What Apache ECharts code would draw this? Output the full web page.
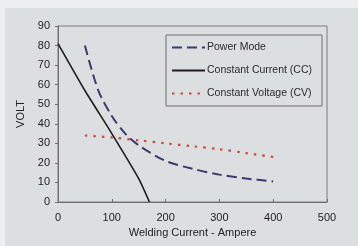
<!DOCTYPE html>
<html>
<head>
<meta charset="utf-8">
<script src="https://cdn.jsdelivr.net/npm/echarts@6/dist/echarts.min.js"></script>
<style>
html,body{margin:0;padding:0;background:#eceeef;}
#main{width:358px;height:246px;}
</style>
</head>
<body>
<div id="main"></div>
<script>
var seriesNames = ['Power Mode', 'Constant Current (CC)', 'Constant Voltage (CV)']
var powerMode = [[50, 80], [75, 57], [100, 44], [125, 35], [150, 29], [200, 21], [250, 17], [300, 14], [350, 12], [400, 10.5]]
var constCurrent = [[0, 81], [50, 57], [100, 35], [150, 12], [170, 0]]
var constVoltage = [[50, 34], [100, 33], [150, 31.5], [200, 30], [250, 28.5], [300, 27], [350, 25], [400, 23]]

var myChart = echarts.init(document.getElementById('main'))
var font = 'Liberation Sans, Arial, sans-serif'
var option = {
	backgroundColor: '#eceeef',
	animation: false,
	graphic: [{
		type: 'rect',
		shape: {x: 5, y: 8, width: 353, height: 238},
		style: {fill: '#dcdfe0'},
		z: -10
	}],
	grid: {left: 58, right: 31, top: 26, bottom: 44, show: true, borderColor: '#7a7a7a', borderWidth: 1, backgroundColor: 'transparent'},
	legend: {
		orient: 'vertical',
		left: 166, top: 35,
		itemWidth: 33, itemHeight: 8, itemGap: 12,
		padding: [7, 10, 7, 5],
		borderColor: '#6e6e6e', borderWidth: 1,
		itemStyle: {opacity: 0},
		textStyle: {fontFamily: font, fontSize: 10.5, color: '#2a2a2a', padding: [0, 0, 0, -3]},
		data: seriesNames
	},
	xAxis: {
		type: 'value', min: 0, max: 500, interval: 100,
		name: 'Welding Current - Ampere', nameLocation: 'middle', nameGap: 24,
		nameTextStyle: {fontFamily: font, fontSize: 11, color: '#222'},
		axisLine: {lineStyle: {color: '#6e6e6e'}},
		axisTick: {show: true, length: 3, inside: true, lineStyle: {color: '#6e6e6e'}},
		axisLabel: {fontFamily: font, fontSize: 11, color: '#222', margin: 10},
		splitLine: {show: false}
	},
	yAxis: {
		type: 'value', min: 0, max: 90, interval: 10,
		name: 'VOLT', nameLocation: 'middle', nameGap: 25,
		nameTextStyle: {fontFamily: font, fontSize: 11, color: '#222'},
		axisLine: {show: true, lineStyle: {color: '#6e6e6e'}},
		axisTick: {show: true, length: 3, lineStyle: {color: '#6e6e6e'}},
		axisLabel: {fontFamily: font, fontSize: 11, color: '#222', margin: 8},
		splitLine: {show: false}
	},
	series: [{
		name: seriesNames[0], type: 'line', data: powerMode, smooth: 0.3, symbol: 'none',
		lineStyle: {color: '#3d3a72', width: 2, type: [10, 5]},
		itemStyle: {color: '#3d3a72'}
	}, {
		name: seriesNames[1], type: 'line', data: constCurrent, smooth: 0.2, symbol: 'none',
		lineStyle: {color: '#1e1e1e', width: 1.6},
		itemStyle: {color: '#1e1e1e'}
	}, {
		name: seriesNames[2], type: 'line', data: constVoltage, smooth: 0.3, symbol: 'none',
		lineStyle: {color: '#d0473c', width: 2.2, type: [2.5, 6]},
		itemStyle: {color: '#d0473c'}
	}]
}
myChart.setOption(option)
</script>
</body>
</html>
